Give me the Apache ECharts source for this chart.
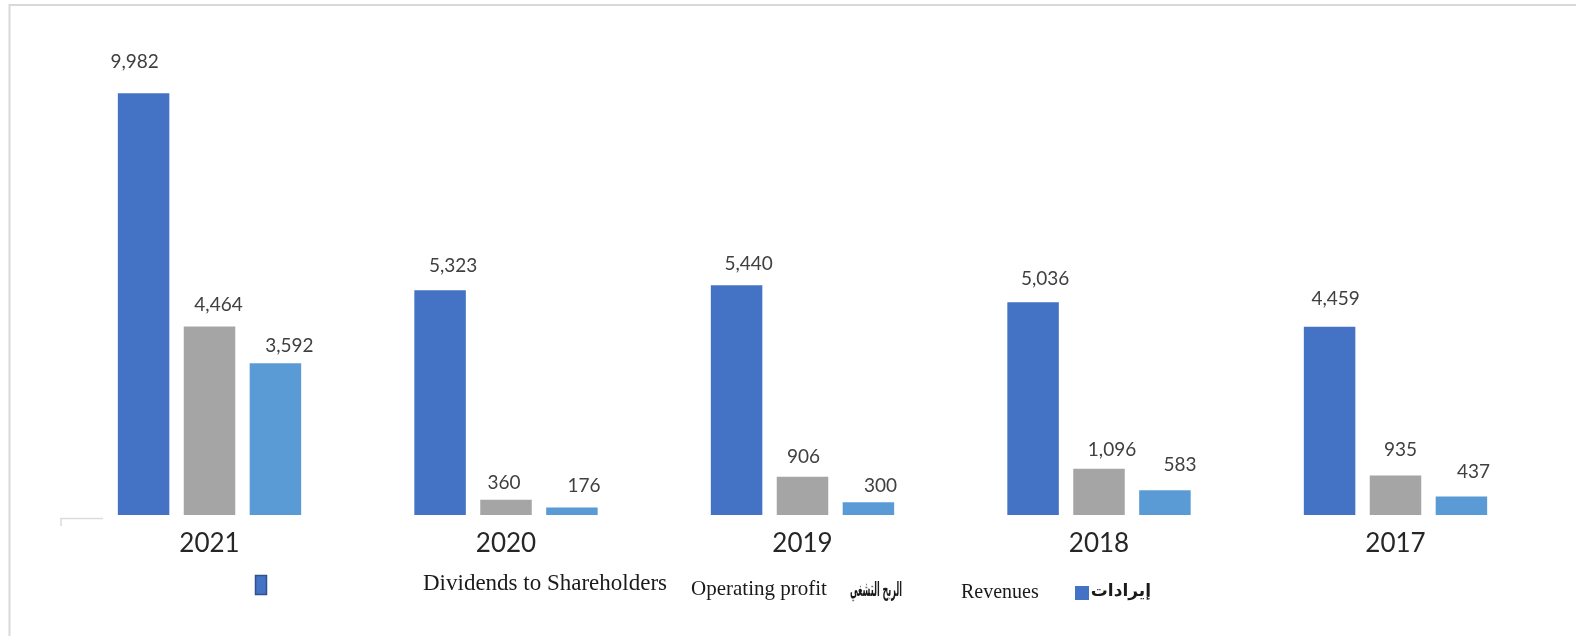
<!DOCTYPE html>
<html>
<head>
<meta charset="utf-8">
<script src="https://cdn.jsdelivr.net/npm/echarts@6/dist/echarts.min.js"></script>
<style>
html,body{margin:0;padding:0;background:#fff;}
#chart{width:1576px;height:636px;}
</style>
</head>
<body>
<div id="chart"></div>
<script>
const years = ['2021', '2020', '2019', '2018', '2017'];
const revenues = [9982, 5323, 5440, 5036, 4459];
const operatingProfit = [4464, 360, 906, 1096, 935];
const dividends = [3592, 176, 300, 583, 437];

// small label nudges (style only), matching the hand-placed labels of the original
const revLabelNudge = [[-9, -9], [13, -2], [12, 1], [12, -1], [6, -5]];
const opLabelNudge = [[9, 1], [-2, 6], [1, 3], [13, 4], [5, -3]];
const divLabelNudge = [[14, 5], [12, 1], [12, 6], [15, -3], [12, -2]];

const chart = echarts.init(document.getElementById('chart'), null, {renderer: 'canvas'});

function mkSeries(name, data, color, nudges) {
  return {
    name: name,
    type: 'bar',
    data: data.map((v, i) => ({value: v, label: {offset: nudges[i]}})),
    barWidth: 51.5,
    barGap: '28%',
    itemStyle: {color: color},
    label: {
      show: true,
      position: 'top',
      distance: 13,
      color: '#404040',
      fontFamily: 'Lato',
      fontSize: 19,
      lineHeight: 19,
      formatter: p => p.value.toLocaleString('en-US')
    },
    emphasis: {disabled: true}
  };
}

const option = {
  animation: false,
  backgroundColor: '#ffffff',
  grid: {left: 61.25, right: 32.25, top: 92.55, bottom: 121},
  xAxis: {
    type: 'category',
    data: years,
    axisLine: {show: false},
    axisTick: {show: false},
    axisLabel: {color: '#262626', fontFamily: 'Lato', fontSize: 26, margin: 16}
  },
  yAxis: {
    type: 'value',
    min: 0,
    max: 10000,
    show: false,
    splitLine: {show: false}
  },
  series: [
    mkSeries('Revenues', revenues, '#4472C4', revLabelNudge),
    mkSeries('Operating profit', operatingProfit, '#A5A5A5', opLabelNudge),
    mkSeries('Dividends to Shareholders', dividends, '#5B9BD5', divLabelNudge)
  ],
  graphic: [
    {type: 'line', shape: {x1: 9, y1: 5, x2: 1576, y2: 5}, style: {stroke: '#d9d9d9', lineWidth: 2}, silent: true},
    {type: 'line', shape: {x1: 9.5, y1: 4, x2: 9.5, y2: 636}, style: {stroke: '#d9d9d9', lineWidth: 2}, silent: true},
    {type: 'polyline', shape: {points: [[61, 526], [61, 518.5], [103, 518.5]]}, style: {stroke: '#dcdcdc', lineWidth: 1.5, fill: null}, silent: true},
    {type: 'rect', shape: {x: 255.5, y: 575.5, width: 11, height: 19}, style: {fill: '#4472C4', stroke: '#2F528F', lineWidth: 1.5}, silent: true},
    {type: 'text', x: 423, y: 584, style: {text: 'Dividends to Shareholders', fill: '#1a1a1a', font: '23px "Liberation Serif"', textAlign: 'left', verticalAlign: 'middle'}, silent: true},
    {type: 'text', x: 691, y: 589, style: {text: 'Operating profit', fill: '#1a1a1a', font: '21px "Liberation Serif"', textAlign: 'left', verticalAlign: 'middle'}, silent: true},
    {type: 'text', x: 902, y: 591, scaleX: 0.4, style: {text: 'الربح التشغي', fill: '#1a1a1a', font: 'bold 20px "DejaVu Sans"', textAlign: 'right', verticalAlign: 'middle'}, silent: true},
    {type: 'text', x: 961, y: 593, style: {text: 'Revenues', fill: '#1a1a1a', font: '20px "Liberation Serif"', textAlign: 'left', verticalAlign: 'middle'}, silent: true},
    {type: 'rect', shape: {x: 1075, y: 586, width: 14, height: 14}, style: {fill: '#4472C4'}, silent: true},
    {type: 'text', x: 1151, y: 592, style: {text: 'إيرادات', fill: '#1a1a1a', font: 'bold 17px "DejaVu Sans"', textAlign: 'right', verticalAlign: 'middle'}, silent: true}
  ]
};
chart.setOption(option);
</script>
</body>
</html>
